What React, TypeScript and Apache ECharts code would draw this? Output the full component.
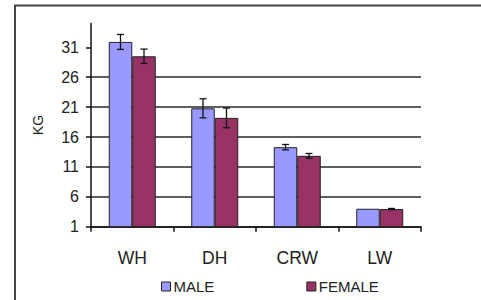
import React, { useEffect, useRef } from "react";
import * as echarts from "echarts";

const categories = ["WH", "DH", "CRW", "LW"];
const maleValues = [31.9, 20.8, 14.3, 4.0];
const maleErrors = [1.25, 1.6, 0.45, 0];
const femaleValues = [29.5, 19.2, 12.85, 3.95];
const femaleErrors = [1.2, 1.65, 0.4, 0.1];
const yTicks = [1, 6, 11, 16, 21, 26, 31];

const FONT = '"Liberation Sans", Arial, sans-serif';
const BAR_W = 23.5;

function errorSeries(name: string, values: number[], errs: number[], side: number) {
  return {
    type: "custom",
    name,
    z: 10,
    silent: true,
    data: values.map((v, i) => [i, v, errs[i], side]),
    encode: { x: 0, y: 1 },
    renderItem: (params: any, api: any) => {
      const idx = api.value(0);
      const v = api.value(1);
      const e = api.value(2);
      const s = api.value(3);
      if (!e) return { type: "group", children: [] };
      const top = api.coord([idx, v + e]);
      const bot = api.coord([idx, v - e]);
      const x = top[0] + (s * BAR_W) / 2;
      const style = { stroke: "#111", lineWidth: 1.3 };
      const cap = 3.5;
      return {
        type: "group",
        children: [
          { type: "line", shape: { x1: x, y1: top[1], x2: x, y2: bot[1] }, style },
          { type: "line", shape: { x1: x - cap, y1: top[1], x2: x + cap, y2: top[1] }, style },
          { type: "line", shape: { x1: x - cap, y1: bot[1], x2: x + cap, y2: bot[1] }, style },
        ],
      };
    },
  };
}

export default function App() {
  const ref = useRef<HTMLDivElement>(null);
  useEffect(() => {
    if (!ref.current) return;
    const chart = echarts.init(ref.current, null, { renderer: "svg" });
    chart.setOption({
      animation: false,
      backgroundColor: "#ffffff",
      textStyle: { fontFamily: FONT },
      grid: { left: 91, right: 60, top: 23.4, bottom: 73.3, containLabel: false },
      graphic: [
        {
          type: "rect",
          z: -1,
          shape: { x: 15, y: 5.5, width: 520, height: 400 },
          style: { fill: "none", stroke: "#444", lineWidth: 2 },
        },
      ],
      legend: {
        data: ["MALE", "FEMALE"],
        left: 161,
        top: 279,
        itemWidth: 9,
        itemHeight: 9,
        itemGap: 92,
        icon: "rect",
        padding: 0,
        itemStyle: { borderColor: "#222", borderWidth: 1 },
        textStyle: { fontFamily: FONT, fontSize: 15, color: "#222", padding: [0, 0, 0, -2] },
      },
      xAxis: {
        type: "category",
        data: categories,
        boundaryGap: true,
        axisLine: { lineStyle: { color: "#111", width: 1.5 } },
        axisTick: { show: true, length: 5, inside: false, lineStyle: { color: "#111", width: 1.5 } },
        axisLabel: { fontFamily: FONT, fontSize: 17.5, color: "#222", margin: 22 },
        splitLine: { show: false },
      },
      yAxis: {
        type: "value",
        min: 1,
        max: 35,
        interval: 5,
        name: "KG",
        nameLocation: "middle",
        nameRotate: 90,
        nameGap: 46,
        nameTextStyle: { fontFamily: FONT, fontSize: 14, color: "#222" },
        axisLine: { show: true, lineStyle: { color: "#111", width: 1.5 } },
        axisTick: {
          show: true,
          length: 5,
          lineStyle: { color: "#111", width: 1.5 },
          customValues: yTicks,
        },
        axisLabel: {
          fontFamily: FONT,
          fontSize: 16,
          color: "#222",
          margin: 12,
          customValues: yTicks,
        },
        splitLine: {
          show: true,
          showMaxLine: false,
          lineStyle: { color: "#2a2a2a", width: 1.5 },
        },
      },
      series: [
        {
          type: "bar",
          name: "MALE",
          data: maleValues,
          barWidth: BAR_W,
          barGap: "0%",
          itemStyle: { color: "#9999FF", borderColor: "#222", borderWidth: 1 },
        },
        {
          type: "bar",
          name: "FEMALE",
          data: femaleValues,
          barWidth: BAR_W,
          barGap: "0%",
          itemStyle: { color: "#993366", borderColor: "#222", borderWidth: 1 },
        },
        errorSeries("maleErr", maleValues, maleErrors, -1),
        errorSeries("femaleErr", femaleValues, femaleErrors, 1),
      ],
    });
    return () => chart.dispose();
  }, []);
  return (
    <div
      ref={ref}
      style={{ position: "fixed", left: 0, top: 0, width: 481, height: 300, background: "#fff" }}
    />
  );
}
